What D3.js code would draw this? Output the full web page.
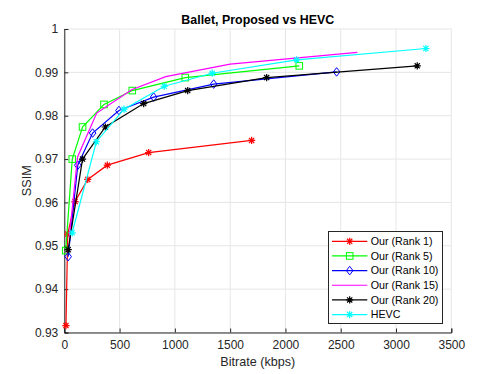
<!DOCTYPE html>
<html>
<head>
<meta charset="utf-8">
<script src="https://cdn.jsdelivr.net/npm/d3@7"></script>
<style>
  body { margin: 0; background: #fff; }
  svg { font-family: "Liberation Sans", Arial, sans-serif; }
</style>
</head>
<body>
<div id="chart"></div>
<script>
// bitrate (kbps) / SSIM per curve
const rank1X = [15, 31, 97, 212, 389, 763, 1694];
const rank1Y = [0.9316, 0.9527, 0.9602, 0.9653, 0.9686, 0.9715, 0.9743];
const rank5X = [13, 72, 165, 359, 615, 1094, 2125];
const rank5Y = [0.9489, 0.9700, 0.9774, 0.9826, 0.9858, 0.9888, 0.9915];
const rank10X = [35, 122, 256, 494, 808, 1351, 2463];
const rank10Y = [0.9475, 0.9686, 0.9760, 0.9812, 0.9843, 0.9873, 0.9901];
const rank15X = [45, 120, 293, 609, 917, 1500, 2650];
const rank15Y = [0.9520, 0.9705, 0.9806, 0.9860, 0.9890, 0.9919, 0.9946];
const rank20X = [35, 165, 371, 718, 1116, 1830, 3192];
const rank20Y = [0.9491, 0.9700, 0.9774, 0.9828, 0.9858, 0.9888, 0.9915];
const hevcX = [71, 290, 540, 904, 1338, 2101, 3270];
const hevcY = [0.9530, 0.9740, 0.9815, 0.9868, 0.9898, 0.9929, 0.9955];

const seriesNames = ["Our (Rank 1)", "Our (Rank 5)", "Our (Rank 10)", "Our (Rank 15)", "Our (Rank 20)", "HEVC"];
const xTicks = [0, 500, 1000, 1500, 2000, 2500, 3000, 3500];
const yTicks = [0.93, 0.94, 0.95, 0.96, 0.97, 0.98, 0.99, 1];

const series = [
  { name: seriesNames[0], x: rank1X, y: rank1Y, color: "#ff0000", marker: "star" },
  { name: seriesNames[1], x: rank5X, y: rank5Y, color: "#00ff00", marker: "square" },
  { name: seriesNames[2], x: rank10X, y: rank10Y, color: "#0000ff", marker: "diamond" },
  { name: seriesNames[3], x: rank15X, y: rank15Y, color: "#ff00ff", marker: null },
  { name: seriesNames[4], x: rank20X, y: rank20Y, color: "#000000", marker: "star" },
  { name: seriesNames[5], x: hevcX, y: hevcY, color: "#00ffff", marker: "star" }
];

const width = 499, height = 374;
const margin = { left: 64.3, right: 499 - 451.3, top: 29, bottom: 374 - 332.5 };

const svg = d3.select("#chart").append("svg")
  .attr("width", width)
  .attr("height", height);

const x = d3.scaleLinear().domain([0, 3500]).range([margin.left, width - margin.right]);
const y = d3.scaleLinear().domain([0.93, 1]).range([height - margin.bottom, margin.top]);

// grid
const grid = svg.append("g");
grid.selectAll(".gx").data(xTicks).enter().append("line")
  .attr("x1", d => x(d)).attr("x2", d => x(d))
  .attr("y1", y(0.93)).attr("y2", y(1))
  .attr("stroke", "#e6e6e6").attr("stroke-width", 1);
grid.selectAll(".gy").data(yTicks).enter().append("line")
  .attr("x1", x(0)).attr("x2", x(3500))
  .attr("y1", d => y(d)).attr("y2", d => y(d))
  .attr("stroke", "#e6e6e6").attr("stroke-width", 1);

// axes
const xAxis = svg.append("g")
  .attr("transform", `translate(0,${y(0.93)})`)
  .call(d3.axisBottom(x).tickValues(xTicks).tickSize(-4).tickPadding(8).tickFormat(d3.format("d")));
const yAxis = svg.append("g")
  .attr("transform", `translate(${x(0)},0)`)
  .call(d3.axisLeft(y).tickValues(yTicks).tickSize(-4).tickPadding(6).tickFormat(d => d === 1 ? "1" : d3.format(".2f")(d)));

[xAxis, yAxis].forEach(a => {
  a.select(".domain").attr("stroke", "#262626");
  a.selectAll(".tick line").attr("stroke", "#262626");
  a.selectAll("text").attr("fill", "#262626").style("font-size", "12px").style("font-family", "Liberation Sans, Arial, sans-serif");
});

// markers
function drawMarker(g, type, cx, cy, color, s) {
  if (type === "star") {
    const r = s;
    const d = r * 0.72;
    g.append("path")
      .attr("d", `M${cx - r},${cy}L${cx + r},${cy}M${cx},${cy - r}L${cx},${cy + r}` +
        `M${cx - d},${cy - d}L${cx + d},${cy + d}M${cx - d},${cy + d}L${cx + d},${cy - d}`)
      .attr("stroke", color).attr("stroke-width", 1.2).attr("fill", "none");
  } else if (type === "square") {
    g.append("rect")
      .attr("x", cx - s).attr("y", cy - s)
      .attr("width", 2 * s).attr("height", 2 * s)
      .attr("stroke", color).attr("stroke-width", 1).attr("fill", "none");
  } else if (type === "diamond") {
    g.append("path")
      .attr("d", `M${cx},${cy - s * 1.3}L${cx + s},${cy}L${cx},${cy + s * 1.3}L${cx - s},${cy}Z`)
      .attr("stroke", color).attr("stroke-width", 1).attr("fill", "none");
  }
}

const line = d3.line().x(d => x(d[0])).y(d => y(d[1]));
const plot = svg.append("g");
series.forEach(s => {
  const pts = s.x.map((v, i) => [v, s.y[i]]);
  plot.append("path")
    .datum(pts)
    .attr("d", line)
    .attr("fill", "none")
    .attr("stroke", s.color)
    .attr("stroke-width", 1.2);
  if (s.marker) {
    pts.forEach(p => drawMarker(plot, s.marker, x(p[0]), y(p[1]), s.color, s.marker === "star" ? 3.6 : 3.3));
  }
});

// title and labels
svg.append("text")
  .attr("x", (x(0) + x(3500)) / 2).attr("y", 24)
  .attr("text-anchor", "middle")
  .style("font-size", "12.4px").style("font-weight", "bold")
  .attr("fill", "#000")
  .text("Ballet, Proposed vs HEVC");

svg.append("text")
  .attr("x", (x(0) + x(3500)) / 2).attr("y", 366)
  .attr("text-anchor", "middle")
  .style("font-size", "12.6px")
  .attr("fill", "#262626")
  .text("Bitrate (kbps)");

svg.append("text")
  .attr("transform", `translate(31,${(y(0.93) + y(1)) / 2}) rotate(-90)`)
  .attr("text-anchor", "middle")
  .style("font-size", "12.6px")
  .attr("fill", "#262626")
  .text("SSIM");

// legend
const legend = svg.append("g");
legend.append("rect")
  .attr("x", 328.5).attr("y", 231.5)
  .attr("width", 114).attr("height", 92)
  .attr("fill", "#fff").attr("stroke", "#262626").attr("stroke-width", 1);
series.forEach((s, i) => {
  const ly = 241.3 + i * 14.65;
  legend.append("line")
    .attr("x1", 332).attr("x2", 367.3)
    .attr("y1", ly).attr("y2", ly)
    .attr("stroke", s.color).attr("stroke-width", 1.2);
  if (s.marker) drawMarker(legend, s.marker, 349.7, ly, s.color, s.marker === "star" ? 3.6 : 3.3);
  legend.append("text")
    .attr("x", 370.7).attr("y", ly + 3.8)
    .style("font-size", "10.7px")
    .attr("fill", "#000")
    .text(s.name);
});
</script>
</body>
</html>
